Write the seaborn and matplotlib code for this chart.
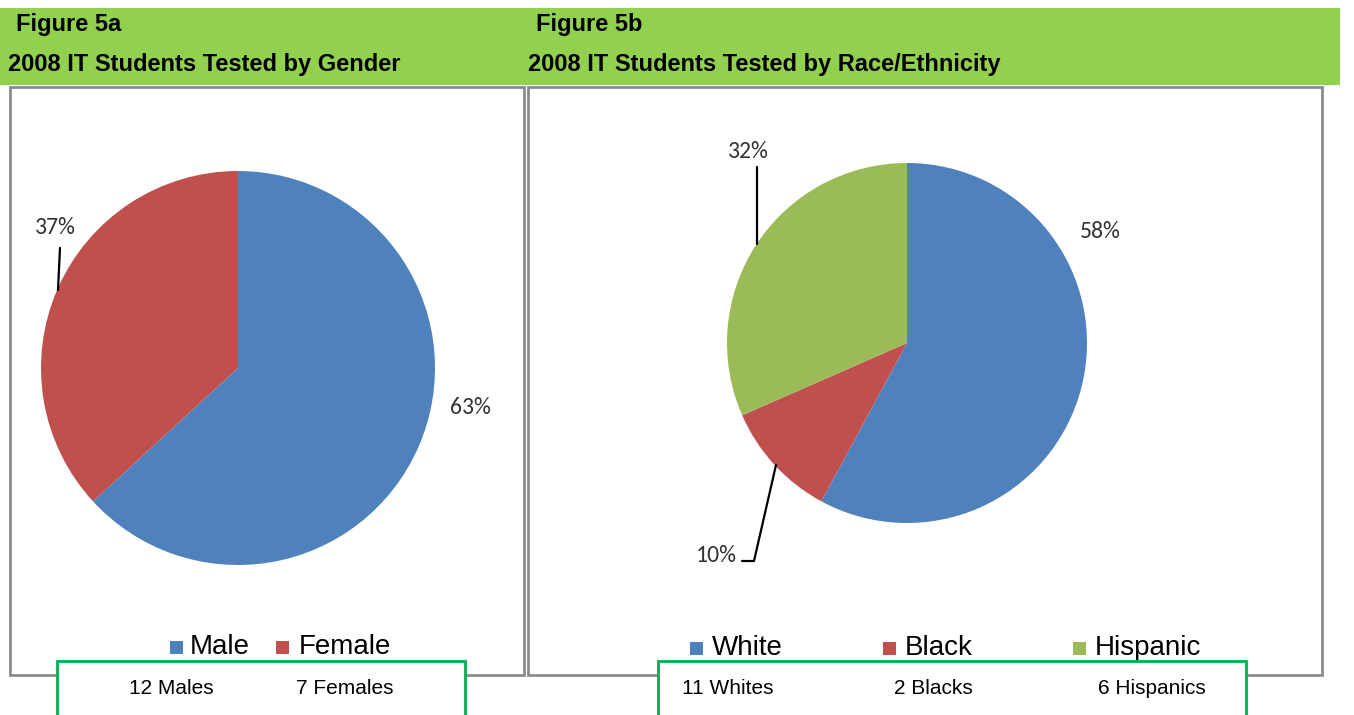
import matplotlib
matplotlib.use("Agg")
import matplotlib.pyplot as plt
from matplotlib.patches import Rectangle
from matplotlib.lines import Line2D
import seaborn as sns

# data
gender_labels = ["Male", "Female"]
gender_counts = [12, 7]
gender_pct = ["63%", "37%"]
gender_notes = ["12 Males", "7 Females"]

race_labels = ["White", "Black", "Hispanic"]
race_counts = [11, 2, 6]
race_pct = ["58%", "10%", "32%"]
race_notes = ["11 Whites", "2 Blacks", "6 Hispanics"]

colors = sns.color_palette(["#4F81BD", "#C0504D", "#9BBB59"])

sns.set_theme(style="white")
plt.rcParams["text.color"] = "black"
narrow = ["Liberation Sans Narrow", "Liberation Sans", "DejaVu Sans"]
calib = ["Carlito", "Lato", "DejaVu Sans"]

W, H = 1354, 715
fig = plt.figure(figsize=(W / 100, H / 100), dpi=100)


def fx(x):
    return x / W


def fy(y):
    return 1 - y / H


def box(x0, y0, x1, y1, ec, lw, fc="white", z=1):
    fig.add_artist(Rectangle((fx(x0), fy(y1)), fx(x1) - fx(x0), fy(y0) - fy(y1),
                             transform=fig.transFigure, fc=fc, ec=ec, lw=lw, zorder=z))


def line(xs, ys):
    fig.add_artist(Line2D([fx(x) for x in xs], [fy(y) for y in ys],
                          transform=fig.transFigure, color="black", lw=1.6, zorder=5))


def pie(cx, cy, r, counts):
    ax = fig.add_axes([fx(cx - r), fy(cy + r), 2 * r / W, 2 * r / H])
    ax.set_zorder(3)
    ax.patch.set_alpha(0)
    ax.pie(counts, colors=colors[:len(counts)], startangle=90, counterclock=False,
           radius=1, wedgeprops=dict(linewidth=0))
    ax.set_xlim(-1, 1)
    ax.set_ylim(-1, 1)
    ax.axis("off")
    return ax


# header band
box(0, 8, 1340, 85, ec="none", lw=0, fc="#92D050", z=0)
hdr = dict(fontsize=17, fontweight="bold", family=narrow, va="center", ha="left")
fig.text(fx(16), fy(24), "Figure 5a", **hdr)
fig.text(fx(8), fy(65), "2008 IT Students Tested by Gender", **hdr)
fig.text(fx(536), fy(24), "Figure 5b", **hdr)
fig.text(fx(528), fy(65), "2008 IT Students Tested by Race/Ethnicity", **hdr)

# panel frames
box(10, 87, 524, 675, ec="#8C8C8C", lw=2, z=1)
box(528, 87, 1322, 675, ec="#8C8C8C", lw=2, z=1)

# pies
pie(238, 368, 197, gender_counts)
pie(907, 343, 180, race_counts)

lab = dict(fontsize=17, family=calib, color="#333333", va="center", ha="center", zorder=6)
fig.text(fx(470), fy(408), gender_pct[0], **lab)
fig.text(fx(55), fy(227), gender_pct[1], **lab)
line([60, 58], [248, 290])

fig.text(fx(1100), fy(232), race_pct[0], **lab)
fig.text(fx(716), fy(555), race_pct[1], **lab)
line([742, 754, 776], [561, 561, 465])
fig.text(fx(748), fy(152), race_pct[2], **lab)
line([757, 757], [167, 244])

# legends
leg = dict(fontsize=20, family=narrow, va="center", ha="left", zorder=6)
for i, (sx, tx) in enumerate([(170, 190), (276, 299)]):
    box(sx, 641, sx + 13, 654, ec="none", lw=0, fc=colors[i], z=6)
    fig.text(fx(tx), fy(647), gender_labels[i], **leg)
for i, (sx, tx) in enumerate([(690, 712), (883, 905), (1073, 1095)]):
    box(sx, 642, sx + 13, 655, ec="none", lw=0, fc=colors[i], z=6)
    fig.text(fx(tx), fy(648), race_labels[i], **leg)

# count boxes
box(57, 661, 465, 720, ec="#00B050", lw=2, z=7)
box(658, 661, 1246, 720, ec="#00B050", lw=2, z=7)
note = dict(fontsize=15, family=narrow, va="center", ha="center", zorder=8)
for x, t in zip([171, 345], gender_notes):
    fig.text(fx(x), fy(689), t, **note)
for x, t in zip([728, 933, 1152], race_notes):
    fig.text(fx(x), fy(689), t, **note)

fig.savefig("out.png", dpi=100, facecolor="white")
